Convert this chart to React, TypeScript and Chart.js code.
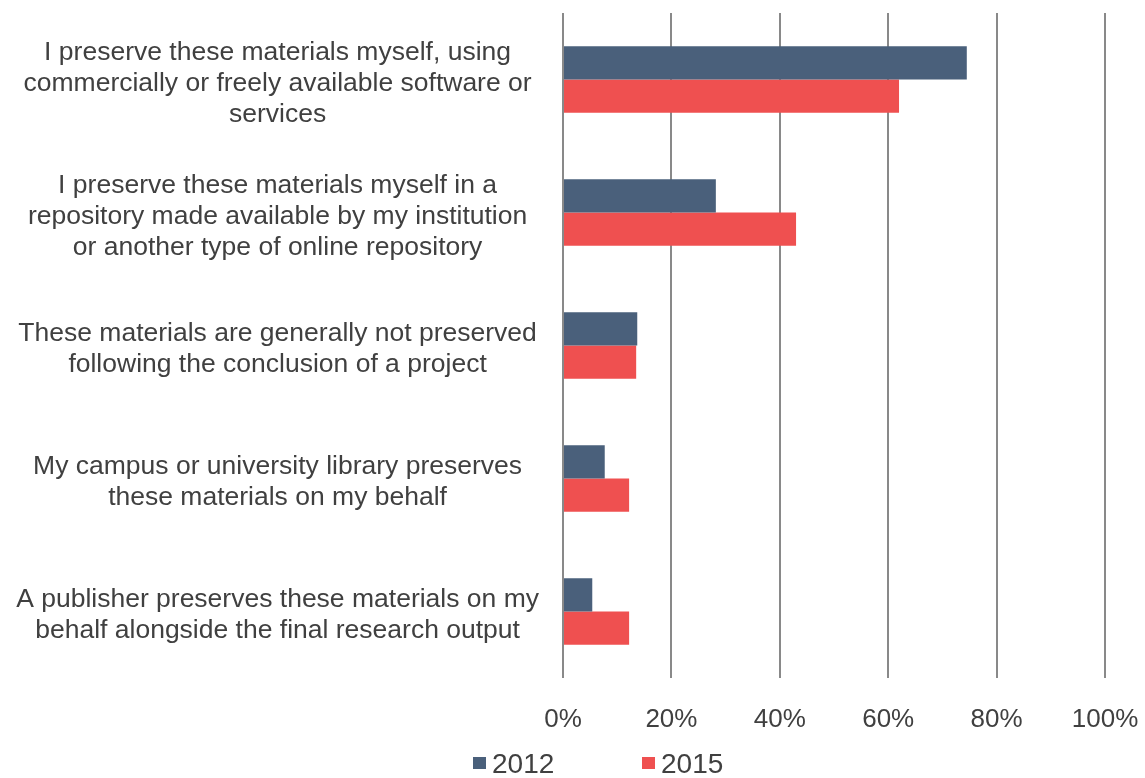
import React, { useEffect, useRef } from "react";
import { Chart, registerables } from "chart.js";

Chart.register(...registerables);

const categories: string[][] = [
  ["I preserve these materials myself, using", "commercially or freely available software or", "services"],
  ["I preserve these materials myself in a", "repository made available by my institution", "or another type of online repository"],
  ["These materials are generally not preserved", "following the conclusion of a project"],
  ["My campus or university library preserves", "these materials on my behalf"],
  ["A publisher preserves these materials on my", "behalf alongside the final research output"],
];

const seriesNames = ["2012", "2015"];
const values2012 = [74.5, 28.2, 13.7, 7.7, 5.4];
const values2015 = [62.0, 43.0, 13.5, 12.2, 12.2];
const xTicks = [0, 20, 40, 60, 80, 100];

const COLOR_2012 = "#4A607B";
const COLOR_2015 = "#EF5050";
const TEXT = "#404040";
const FONT = "'Liberation Sans', Arial, sans-serif";

const legendPlugin = {
  id: "customLegend",
  afterDraw(chart: any) {
    const ctx = chart.ctx;
    const items = chart.data.datasets.map((d: any) => ({ label: d.label, color: d.backgroundColor }));
    const starts = [473, 642];
    ctx.save();
    ctx.font = `28px ${FONT}`;
    ctx.textBaseline = "middle";
    ctx.textAlign = "left";
    items.forEach((it: any, i: number) => {
      const x = starts[i];
      ctx.fillStyle = it.color;
      ctx.fillRect(x, 757, 13, 12);
      ctx.fillStyle = TEXT;
      ctx.fillText(it.label, x + 19, 765);
    });
    ctx.restore();
  },
};

export default function App() {
  const ref = useRef<HTMLCanvasElement | null>(null);
  useEffect(() => {
    if (!ref.current) return;
    const chart = new Chart(ref.current, {
      type: "bar",
      data: {
        labels: categories,
        datasets: [
          { label: seriesNames[0], data: values2012, backgroundColor: COLOR_2012, categoryPercentage: 0.5, barPercentage: 1.0 },
          { label: seriesNames[1], data: values2015, backgroundColor: COLOR_2015, categoryPercentage: 0.5, barPercentage: 1.0 },
        ],
      },
      options: {
        indexAxis: "y",
        animation: false,
        responsive: true,
        maintainAspectRatio: false,
        layout: { padding: { top: 13, right: 40, left: 0, bottom: 0 } },
        plugins: { legend: { display: false }, tooltip: { enabled: false } },
        scales: {
          x: {
            min: 0,
            max: 100,
            afterBuildTicks: (scale: any) => {
              scale.ticks = xTicks.map((v) => ({ value: v }));
            },
            afterFit: (scale: any) => {
              scale.height = 100;
              scale.paddingLeft = 0;
              scale.paddingRight = 0;
            },
            grid: { color: "#898989", lineWidth: 2, drawTicks: false },
            border: { display: false },
            ticks: {
              padding: 26,
              color: TEXT,
              font: { family: FONT, size: 26 },
              callback: (v: any) => `${v}%`,
            },
          },
          y: {
            afterFit: (scale: any) => {
              scale.width = 563;
              scale.paddingTop = 0;
              scale.paddingBottom = 0;
            },
            grid: { display: false },
            border: { display: false },
            ticks: {
              crossAlign: "center",
              padding: 16,
              labelOffset: 4,
              color: TEXT,
              font: { family: FONT, size: 26.5, lineHeight: 1.17 },
            },
          },
        },
      },
      plugins: [legendPlugin],
    });
    return () => chart.destroy();
  }, []);
  return (
    <div style={{ position: "fixed", left: 0, top: 0, width: 1145, height: 778, background: "#fff" }}>
      <canvas ref={ref} />
    </div>
  );
}
